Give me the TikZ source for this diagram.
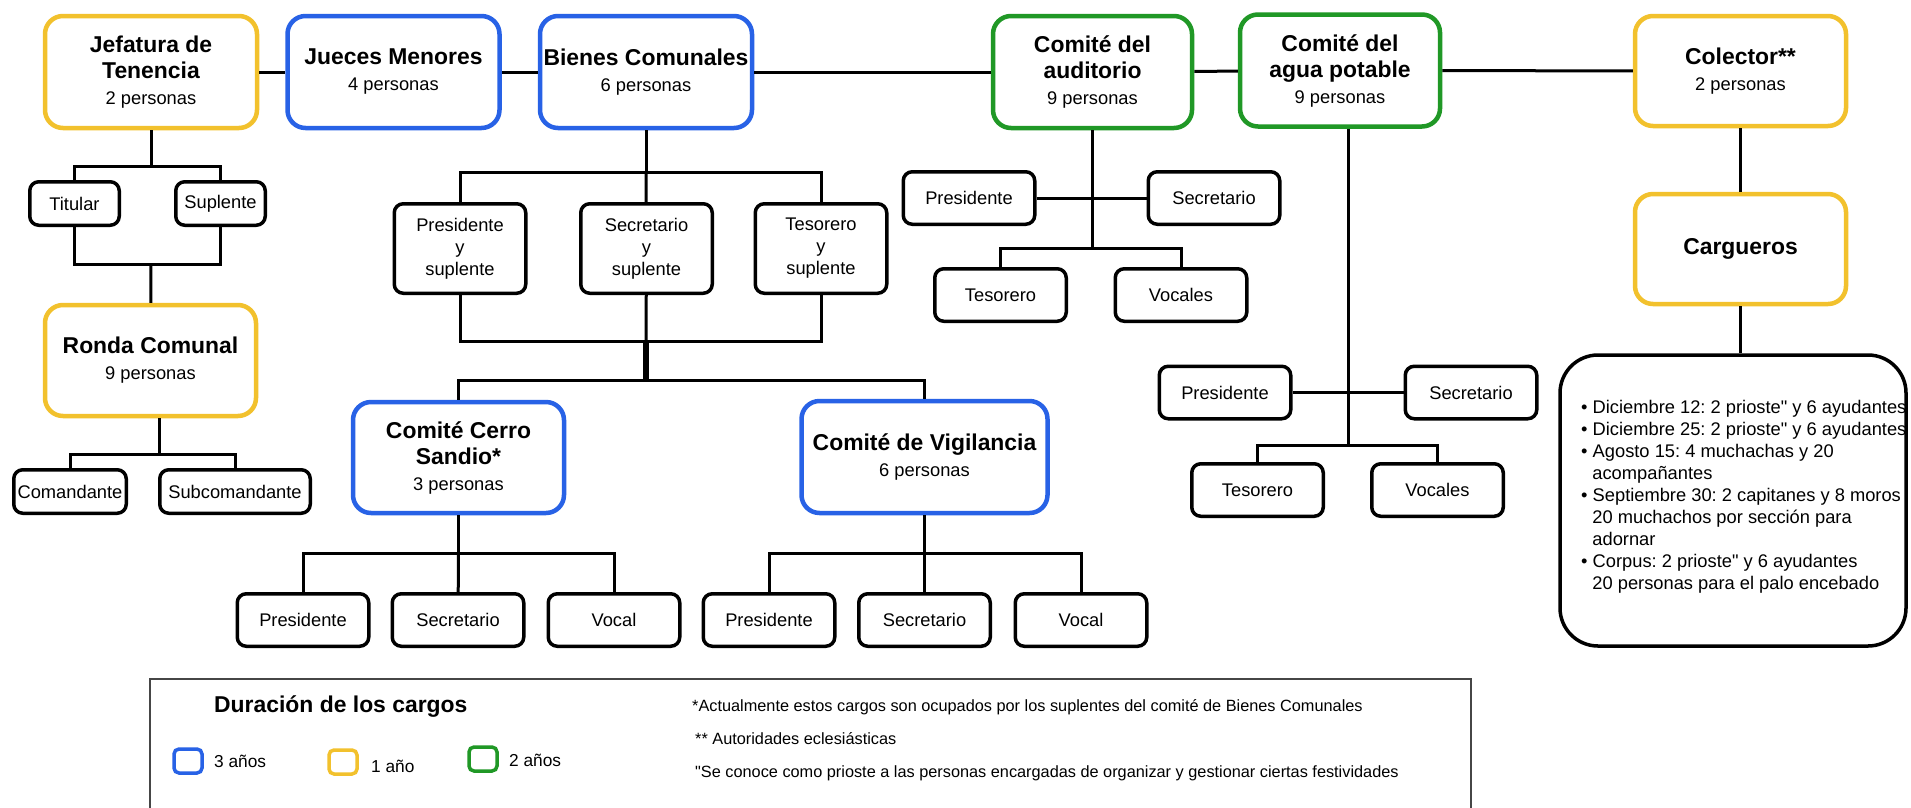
\documentclass[tikz,border=0pt]{standalone}
\usepackage{fontspec}
\setmainfont{Liberation Sans}[Ligatures=TeXOff]
\usepackage{tikz}

\definecolor{azul}{RGB}{40,98,230}
\definecolor{amarillo}{RGB}{242,193,45}
\definecolor{verde}{RGB}{32,152,38}
\definecolor{marco}{RGB}{70,70,70}
\newcommand{\cargo}[1]{{\fontsize{22.9}{26}\selectfont\bfseries #1}}
\newcommand{\sangria}{\hspace*{11.2pt}}
\frenchspacing

\begin{document}
\begin{tikzpicture}[x=1pt,y=-1pt]
	\tikzstyle{organo}=[rectangle,draw,line width=4.5pt,rounded corners=18pt,minimum width=212pt,minimum height=112pt,inner sep=2pt,align=center,font=\fontsize{18.3}{26}\selectfont]
	\tikzstyle{tres}=[organo,draw=azul]
	\tikzstyle{uno}=[organo,draw=amarillo]
	\tikzstyle{dos}=[organo,draw=verde]
	\tikzstyle{puesto}=[rectangle,draw,line width=3.5pt,rounded corners=9pt,minimum width=131.5pt,minimum height=52.5pt,inner sep=2pt,align=center,font=\fontsize{18.3}{22}\selectfont]
	\tikzstyle{enlace}=[line width=3pt]
	\tikzstyle{muestra}=[rectangle,draw,line width=3.5pt,rounded corners=5pt,minimum width=28pt,minimum height=24pt,inner sep=0pt]
	\tikzstyle{nota}=[anchor=west,inner sep=0pt,font=\fontsize{17.3}{20}\selectfont]

	\path[use as bounding box,fill=white] (0,0) rectangle (1911,807);

	% fila superior
	\node (jefatura)  at (151,72)     [uno] {\cargo{Jefatura de}\\\cargo{Tenencia}\\2 personas};
	\node (jueces)    at (393.5,72)   [tres] {\cargo{Jueces Menores}\\4 personas};
	\node (bienes)    at (646,72)     [tres] {\cargo{Bienes Comunales}\\6 personas};
	\node (auditorio) at (1092.5,72)  [dos,minimum width=199pt] {\cargo{Comité del}\\\cargo{auditorio}\\9 personas};
	\node (agua)      at (1340,70.5)  [dos,minimum width=200pt] {\cargo{Comité del}\\\cargo{agua potable}\\9 personas};
	\node (colector)  at (1740.5,71)  [uno,minimum width=211pt,minimum height=110pt] {\cargo{Colector**}\\2 personas};
	\node (cargueros) at (1740.5,249) [uno,minimum width=211pt,minimum height=110pt] {\cargo{Cargueros}};
	\node (ronda)     at (150.5,360.5) [uno,minimum width=211pt,minimum height=111pt] {\cargo{Ronda Comunal}\\9 personas};
	\node (cerro)     at (458.5,457.5) [tres,minimum width=211pt,minimum height=111pt] {\cargo{Comité Cerro}\\\cargo{Sandio*}\\3 personas};
	\node (vigilancia) at (924.5,457) [tres,minimum width=246pt] {\cargo{Comité de Vigilancia}\\6 personas};

	% puestos
	\node (titular)       at (74.5,203.5)  [puesto,minimum width=89.5pt,minimum height=43.5pt] {Titular};
	\node (suplente)      at (220.5,203.5) [puesto,minimum width=89.5pt,minimum height=43.5pt] {Suplente};
	\node (comandante)    at (70,491.5)    [puesto,minimum width=112.5pt,minimum height=43.5pt] {Comandante};
	\node (subcomandante) at (235,491.5)   [puesto,minimum width=150.5pt,minimum height=43.5pt] {Subcomandante};
	\node (presbienes) at (460,248.5)   [puesto,minimum height=89.5pt] {Presidente\\y\\suplente};
	\node (secbienes)  at (646.5,248.5) [puesto,minimum height=89.5pt] {Secretario\\y\\suplente};
	\node (tesbienes)  at (821,248.5)   [puesto,minimum height=89.5pt] {Tesorero\\y\\suplente};
	\node (presaud) at (969,198)    [puesto] {Presidente};
	\node (secaud)  at (1214,198)   [puesto] {Secretario};
	\node (tesaud)  at (1000.5,295) [puesto] {Tesorero};
	\node (vocaud)  at (1181,295)   [puesto] {Vocales};
	\node (presagua) at (1225,392.5) [puesto] {Presidente};
	\node (secagua)  at (1471,392.5) [puesto] {Secretario};
	\node (tesagua)  at (1257.5,490) [puesto] {Tesorero};
	\node (vocagua)  at (1437.5,490) [puesto] {Vocales};
	\node (prescerro) at (303,620)   [puesto] {Presidente};
	\node (seccerro)  at (458,620)   [puesto] {Secretario};
	\node (vocerro)   at (614,620)   [puesto] {Vocal};
	\node (presvig)   at (769,620)   [puesto] {Presidente};
	\node (secvig)    at (924.5,620) [puesto] {Secretario};
	\node (vocvig)    at (1081,620)  [puesto] {Vocal};

	% fiestas de los cargueros
	\node (cargos) at (1733,500.5) [rectangle,draw,line width=3.5pt,rounded corners=38pt,minimum width=346pt,minimum height=291pt] {};
	\node (fiestas) at (1581,497) [anchor=west,align=left,inner sep=0pt,font=\fontsize{18.3}{22}\selectfont] {%
		• Diciembre 12: 2 prioste" y 6 ayudantes\\
		• Diciembre 25: 2 prioste" y 6 ayudantes\\
		• Agosto 15: 4 muchachas y 20\\
		\sangria acompañantes\\
		• Septiembre 30: 2 capitanes y 8 moros\\
		\sangria 20 muchachos por sección para\\
		\sangria adornar\\
		• Corpus: 2 prioste" y 6 ayudantes\\
		\sangria 20 personas para el palo encebado};

	% uniones
	\coordinate (jsup) at (151,166);
	\coordinate (jinf) at (151,264);
	\coordinate (rond) at (159,454);
	\coordinate (bsup) at (646,172);
	\coordinate (binf) at (646,341);
	\coordinate (bcom) at (646,380);
	\coordinate (cerj) at (458.5,553);
	\coordinate (vigj) at (924.5,553);
	\coordinate (audj) at (1092.5,248);
	\coordinate (aguj) at (1348,445);

	\draw [enlace] (jefatura) -- (jueces);
	\draw [enlace] (jueces) -- (bienes);
	\draw [enlace] (bienes) -- (auditorio);
	\draw [enlace] (auditorio) -- (agua);
	\draw [enlace] (agua) -- (colector);

	\draw [enlace] (jefatura) -- (jsup);
	\draw [enlace] (titular) |- (jsup) -| (suplente);
	\draw [enlace] (titular) |- (jinf) -| (suplente);
	\draw [enlace] (jinf) -- (ronda);
	\draw [enlace] (ronda.south -| rond) -- (rond);
	\draw [enlace] (comandante) |- (rond) -| (subcomandante);

	\draw [enlace] (bienes) -- (bsup);
	\draw [enlace] (presbienes) |- (bsup) -| (tesbienes);
	\draw [enlace] (bsup) -- (secbienes);
	\draw [enlace] (presbienes) |- (binf) -| (tesbienes);
	\draw [enlace] (secbienes) -- (binf);
	\draw [enlace,line width=6pt] (binf) -- (bcom);
	\draw [enlace] (cerro) |- (bcom) -| (vigilancia);

	\draw [enlace] (cerro) -- (cerj);
	\draw [enlace] (prescerro) |- (cerj) -| (vocerro);
	\draw [enlace] (cerj) -- (seccerro);
	\draw [enlace] (vigilancia) -- (vigj);
	\draw [enlace] (presvig) |- (vigj) -| (vocvig);
	\draw [enlace] (vigj) -- (secvig);

	\draw [enlace] (auditorio) -- (audj);
	\draw [enlace] (presaud) -- (secaud);
	\draw [enlace] (tesaud) |- (audj) -| (vocaud);

	\draw [enlace] (agua.south -| aguj) -- (aguj);
	\draw [enlace] (presagua) -- (secagua);
	\draw [enlace] (tesagua) |- (aguj) -| (vocagua);

	\draw [enlace] (colector) -- (cargueros);
	\draw [enlace] (cargueros) -- (cargueros |- cargos.north);

	% leyenda
	\draw [line width=2pt,marco] (150,812) |- (1471,679) -- (1471,812);
	\node (duracion) at (214,707) [anchor=west,inner sep=0pt,font=\fontsize{22.9}{26}\selectfont\bfseries] {Duración de los cargos};
	\node (m3) at (188,761) [muestra,draw=azul] {};
	\node (l3) at (214,761) [nota] {3 años};
	\node (m1) at (343,762) [muestra,draw=amarillo] {};
	\node (l1) at (371,766) [nota] {1 año};
	\node (m2) at (483,759) [muestra,draw=verde] {};
	\node (l2) at (509,760) [nota] {2 años};
	\node (nota1) at (692,707) [nota,font=\fontsize{16.3}{20}\selectfont] {*Actualmente estos cargos son ocupados por los suplentes del comité de Bienes Comunales};
	\node (nota2) at (695,739) [nota,font=\fontsize{16.3}{20}\selectfont] {** Autoridades eclesiásticas};
	\node (nota3) at (695,773) [nota,font=\fontsize{16.3}{20}\selectfont] {"Se conoce como prioste a las personas encargadas de organizar y gestionar ciertas festividades};
\end{tikzpicture}
\end{document}
